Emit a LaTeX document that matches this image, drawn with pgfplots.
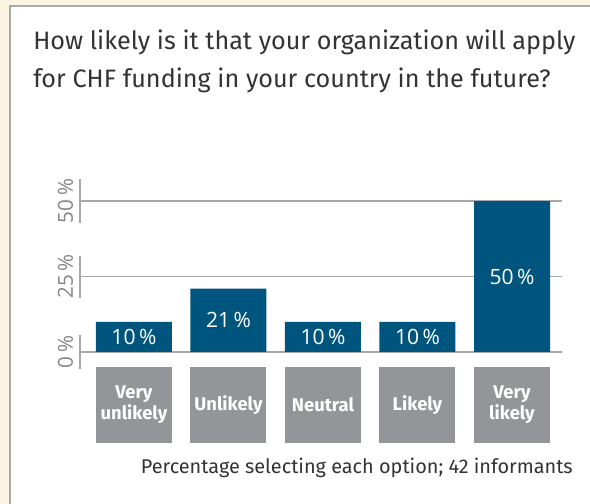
\documentclass[border=0pt]{standalone}
\usepackage{fontspec}
\setmainfont{Fira Sans}
\newfontfamily\numfont{Open Sans}
\usepackage{pgfplots}
\pgfplotsset{compat=1.18}
\usepackage{pgfplotstable}

\definecolor{cream}{HTML}{FCF4E3}
\definecolor{barblue}{HTML}{00557F}
\definecolor{catgray}{HTML}{939598}
\definecolor{gridgray}{HTML}{A7A8AA}
\definecolor{ticktext}{HTML}{858688}
\definecolor{titletext}{HTML}{333333}
\definecolor{panelborder}{HTML}{A9A9A9}

\pgfplotstableread{
x v
0 10
1 21
2 10
3 10
4 50
}\likelydata

\begin{document}
\begin{tikzpicture}
\useasboundingbox (0,0) rectangle (442.5pt,378pt);
\fill[cream] (0,0) rectangle (442.5pt,378pt);
\fill[white] (7.5pt,0) rectangle (442.5pt,373.5pt);
\draw[panelborder, line width=1.1pt] (7.5pt,0) -- (7.5pt,373.5pt) -- (442.5pt,373.5pt);
\node[anchor=base west, font=\fontsize{18.9}{18.9}\selectfont, text=titletext, inner sep=0pt] at (24.75pt,340.5pt) {How likely is it that your organization will apply};
\node[anchor=base west, font=\fontsize{18.9}{18.9}\selectfont, text=titletext, inner sep=0pt] at (24.75pt,312pt) {for CHF funding in your country in the future?};
\node[anchor=base east, font=\fontsize{14.9}{14.9}\selectfont, text=titletext, inner sep=0pt] at (429.75pt,22.5pt) {Percentage selecting each option; 42 informants};

\begin{axis}[
  at={(60pt,114pt)}, anchor=south west,
  scale only axis, width=361.5pt, height=113.25pt,
  xmin=-0.571, xmax=4.529, ymin=0, ymax=50,
  clip=false,
  axis line style={draw=none},
  major tick length=0pt,
  ytick={0,25,50}, yticklabels={0\,\%,25\,\%,50\,\%},
  ymajorgrids, grid style={gridgray, line width=1.1pt},
  yticklabel style={rotate=90, anchor=south, font=\numfont\fontsize{15.5}{15.5}\selectfont, text=ticktext, inner sep=0pt, inner ysep=5pt},
  xtick={0,1,2,3,4},
  xticklabels={{Very\\unlikely},Unlikely,Neutral,Likely,{Very\\likely}},
  xticklabel style={fill=catgray, text=white, font=\bfseries\fontsize{13.8}{15.75}\selectfont, minimum width=57pt, minimum height=57pt, inner sep=0pt, align=center, anchor=center, yshift=-39.75pt},
]
\addplot[ybar, bar width=57pt, bar shift=0pt, fill=barblue, draw=none] table[x=x, y=v] {\likelydata};
\addplot[draw=none, mark=none, nodes near coords={\pgfplotspointmeta\,\%}, point meta=explicit symbolic, nodes near coords align={center}, every node near coord/.append style={anchor=center, text=white, font=\numfont\fontsize{15.8}{15.8}\selectfont, inner sep=0pt}] table[x=x, y expr=\thisrow{v}/2, meta=v] {\likelydata};
\draw[gridgray, line width=1.1pt] (axis cs:-0.571,57.3) -- (axis cs:-0.571,42.7);
\draw[gridgray, line width=1.1pt] (axis cs:-0.571,31.8) -- (axis cs:-0.571,17.9);
\draw[gridgray, line width=1.1pt] (axis cs:-0.571,5.6) -- (axis cs:-0.571,-5.6);
\end{axis}
\end{tikzpicture}
\end{document}
